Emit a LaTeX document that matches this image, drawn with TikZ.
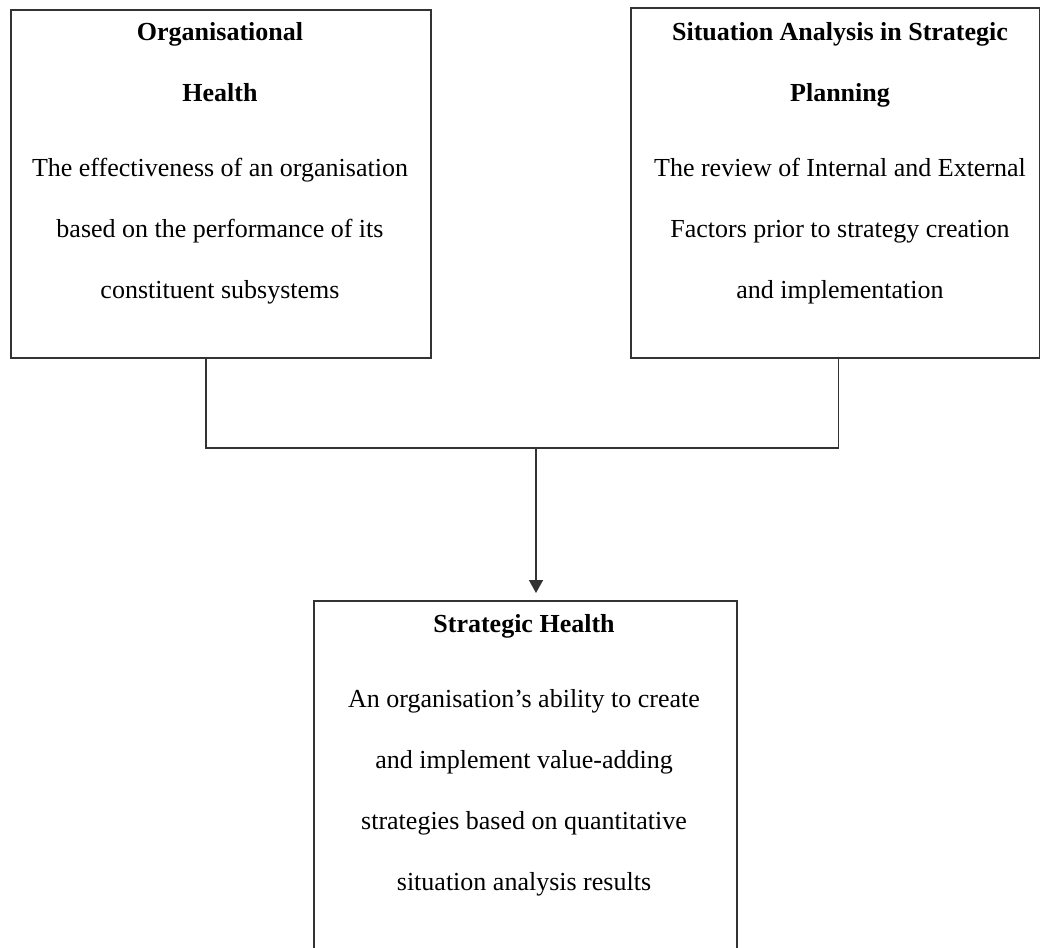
\documentclass[tikz,border=0pt]{standalone}
\usepackage{fontspec}
\setmainfont{Liberation Serif}
\usetikzlibrary{arrows.meta}
\begin{document}
\begin{tikzpicture}[x=1pt,y=-1pt,
  box/.style={draw=black!80, line width=1.6pt, anchor=north west, inner sep=0pt},
  txt/.style={align=center, anchor=base, inner sep=0pt, font=\fontsize{26}{61}\selectfont},
  conn/.style={draw=black!80, line width=1.6pt}]
\useasboundingbox (0,0) rectangle (1040,947);
\node[box, minimum width=420pt, minimum height=348pt] (lb) at (10,9) {};
\node[box, minimum width=409pt, minimum height=350pt] (rb) at (630,7) {};
\node[box, minimum width=423pt, minimum height=360pt] (bb) at (313,600) {};
\node[txt] (lt) at (220,298) {\textbf{Organisational}\\\textbf{Health}\\[14pt]The effectiveness of an organisation\\based on the performance of its\\constituent subsystems};
\node[txt] (rt) at (840,298) {\textbf{Situation Analysis in Strategic}\\\textbf{Planning}\\[14pt]The review of Internal and External\\Factors prior to strategy creation\\and implementation};
\node[txt] (bt) at (524,890) {\textbf{Strategic Health}\\[14pt]An organisation’s ability to create\\and implement value-adding\\strategies based on quantitative\\situation analysis results};
\coordinate (j) at (536,448);
\draw[conn] ([xshift=-15pt]lb.south) -- ([xshift=-15pt]lb.south |- j) -| ([xshift=3pt]rb.south);
\draw[conn, -{Triangle[width=14pt,length=13pt]}, shorten >=7pt] (j) -- (bb.north -| j);
\end{tikzpicture}
\end{document}
